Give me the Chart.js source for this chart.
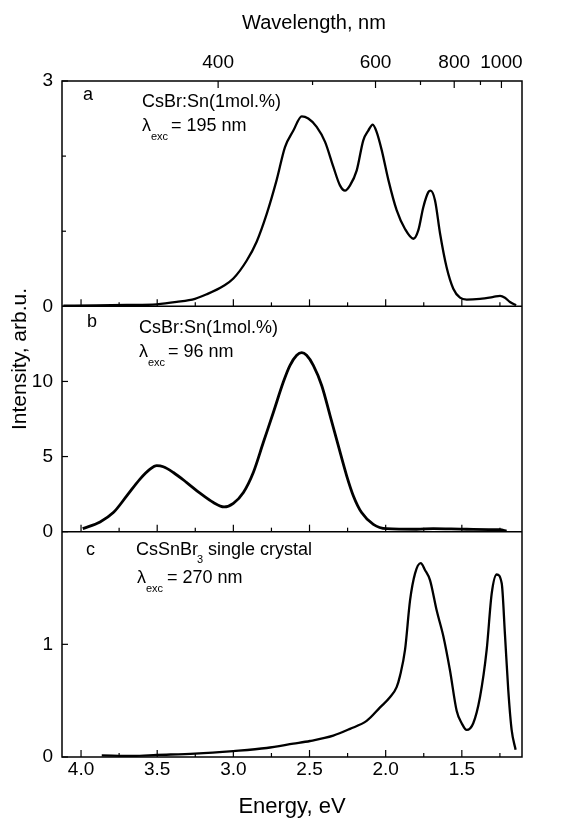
<!DOCTYPE html>
<html>
<head>
<meta charset="utf-8">
<script src="https://cdn.jsdelivr.net/npm/chart.js"></script>
<style>
    html, body { margin: 0; padding: 0; background: #fff; }
    canvas { display: block; }
</style>
</head>
<body>
<canvas id="spectraChart" width="576" height="821"></canvas>
<script>
// panel a: CsBr:Sn(1mol.%), excitation 195 nm
var energyA = [4.116, 3.90, 3.70, 3.503, 3.372, 3.252, 3.175, 3.066, 3.0, 2.912, 2.847, 2.781, 2.716, 2.661, 2.606, 2.551, 2.508, 2.453, 2.398, 2.344, 2.300, 2.267, 2.234, 2.190, 2.147, 2.114, 2.085, 2.059, 2.026, 1.982, 1.928, 1.873, 1.818, 1.786, 1.753, 1.720, 1.705, 1.676, 1.643, 1.600, 1.556, 1.512, 1.468, 1.381, 1.293, 1.249, 1.217, 1.184, 1.144];
var intensityA = [0.01, 0.012, 0.018, 0.027, 0.058, 0.10, 0.16, 0.27, 0.37, 0.61, 0.86, 1.23, 1.68, 2.12, 2.34, 2.53, 2.50, 2.39, 2.19, 1.86, 1.61, 1.54, 1.61, 1.81, 2.21, 2.34, 2.42, 2.32, 2.08, 1.68, 1.28, 1.03, 0.90, 1.01, 1.32, 1.52, 1.54, 1.41, 0.97, 0.52, 0.235, 0.115, 0.09, 0.10, 0.125, 0.14, 0.115, 0.058, 0.013];

// panel b: CsBr:Sn(1mol.%), excitation 96 nm
var energyB = [3.989, 3.875, 3.788, 3.700, 3.613, 3.547, 3.503, 3.460, 3.394, 3.306, 3.219, 3.131, 3.061, 3.0, 2.934, 2.869, 2.803, 2.737, 2.672, 2.628, 2.584, 2.551, 2.519, 2.475, 2.420, 2.365, 2.311, 2.256, 2.212, 2.158, 2.081, 1.994, 1.797, 1.687, 1.468, 1.249, 1.206];
var intensityB = [0.20, 0.65, 1.27, 2.38, 3.50, 4.16, 4.39, 4.32, 3.94, 3.27, 2.56, 1.94, 1.65, 1.89, 2.61, 3.94, 5.95, 7.95, 9.96, 11.07, 11.74, 11.92, 11.74, 11.07, 9.73, 7.73, 5.72, 3.72, 2.38, 1.27, 0.49, 0.20, 0.16, 0.20, 0.16, 0.13, 0.04];

// panel c: CsSnBr3 single crystal, excitation 270 nm
var energyC = [3.864, 3.656, 3.503, 3.252, 3.0, 2.781, 2.606, 2.497, 2.344, 2.234, 2.125, 2.037, 1.972, 1.928, 1.906, 1.873, 1.840, 1.807, 1.770, 1.742, 1.709, 1.665, 1.621, 1.578, 1.534, 1.501, 1.468, 1.425, 1.381, 1.337, 1.304, 1.271, 1.238, 1.217, 1.195, 1.173, 1.147];
var intensityC = [0.015, 0.01, 0.018, 0.03, 0.053, 0.08, 0.118, 0.142, 0.19, 0.25, 0.32, 0.44, 0.53, 0.62, 0.72, 0.95, 1.39, 1.63, 1.72, 1.66, 1.57, 1.30, 1.07, 0.77, 0.41, 0.30, 0.24, 0.30, 0.53, 0.95, 1.45, 1.62, 1.54, 1.09, 0.59, 0.24, 0.065];

// axes
var energyRange = [1.105, 4.125];
var energyTicks = [4.0, 3.5, 3.0, 2.5, 2.0, 1.5];
var energyMinorTicks = [3.75, 3.25, 2.75, 2.25, 1.75, 1.25];
var wavelengthTicks = [400, 600, 800, 1000];
var wavelengthMinorTicks = [500, 700, 900];
var maxA = 3, ticksA = [0, 3], minorTicksA = [1, 2];
var maxB = 15, ticksB = [0, 5, 10];
var maxC = 2, ticksC = [0, 1];

var fontFamily = '"Liberation Sans", Arial, Helvetica, sans-serif';

function toPoints(xs, ys) {
    var pts = [];
    for (var i = 0; i < xs.length; i++) {
        pts.push({ x: xs[i], y: ys[i] });
    }
    return pts;
}

function fixedTicks(values) {
    return function (axis) {
        axis.ticks = values.map(function (v) { return { value: v }; });
    };
}

function yScale(max, ticks) {
    return {
        type: 'linear',
        position: 'left',
        stack: 'panels',
        stackWeight: 1,
        min: 0,
        max: max,
        grid: { display: false, drawTicks: false },
        border: { display: false },
        afterBuildTicks: fixedTicks(ticks),
        afterFit: function (scale) { scale.width = 62; },
        ticks: {
            color: '#000',
            padding: 9,
            font: { family: fontFamily, size: 19 },
            callback: function (value) { return String(value); }
        }
    };
}

function line(ctx, x1, y1, x2, y2) {
    ctx.beginPath();
    ctx.moveTo(x1, y1);
    ctx.lineTo(x2, y2);
    ctx.stroke();
}

function text(ctx, str, x, y, size) {
    ctx.font = size + 'px ' + fontFamily;
    ctx.fillText(str, x, y);
}

// frame, inward ticks and the labels written inside the panels
var framePlugin = {
    id: 'frame',
    afterDatasetsDraw: function (chart) {
        var ctx = chart.ctx;
        var area = chart.chartArea;
        var x = chart.scales.x;
        var panels = [chart.scales.ya, chart.scales.yb, chart.scales.yc];

        ctx.save();
        ctx.strokeStyle = '#000';
        ctx.lineWidth = 1.5;
        ctx.strokeRect(area.left, area.top, area.right - area.left, area.bottom - area.top);
        line(ctx, area.left, chart.scales.ya.bottom, area.right, chart.scales.ya.bottom);
        line(ctx, area.left, chart.scales.yb.bottom, area.right, chart.scales.yb.bottom);

        ctx.lineWidth = 1.2;
        panels.forEach(function (y) {
            energyTicks.forEach(function (v) {
                var px = x.getPixelForValue(v);
                line(ctx, px, y.bottom, px, y.bottom - 7);
            });
            energyMinorTicks.forEach(function (v) {
                var px = x.getPixelForValue(v);
                line(ctx, px, y.bottom, px, y.bottom - 4);
            });
            y.ticks.forEach(function (t) {
                var py = y.getPixelForValue(t.value);
                line(ctx, area.left, py, area.left + 6, py);
            });
        });
        minorTicksA.forEach(function (v) {
            var py = chart.scales.ya.getPixelForValue(v);
            line(ctx, area.left, py, area.left + 4, py);
        });
        wavelengthTicks.forEach(function (w) {
            var px = x.getPixelForValue(1240 / w);
            line(ctx, px, area.top, px, area.top + 7);
        });
        wavelengthMinorTicks.forEach(function (w) {
            var px = x.getPixelForValue(1240 / w);
            line(ctx, px, area.top, px, area.top + 4);
        });

        ctx.fillStyle = '#000';
        ctx.textAlign = 'left';
        ctx.textBaseline = 'alphabetic';

        text(ctx, 'a', 83, 100, 18);
        text(ctx, 'CsBr:Sn(1mol.%)', 142, 107, 18);
        text(ctx, '\u03bb', 142, 131, 18);
        text(ctx, 'exc', 151, 140, 11);
        text(ctx, '= 195 nm', 171, 131, 18);

        text(ctx, 'b', 87, 327, 18);
        text(ctx, 'CsBr:Sn(1mol.%)', 139, 333, 18);
        text(ctx, '\u03bb', 139, 357, 18);
        text(ctx, 'exc', 148, 366, 11);
        text(ctx, '= 96 nm', 168, 357, 18);

        text(ctx, 'c', 86, 555, 18);
        text(ctx, 'CsSnBr', 136, 555, 18);
        text(ctx, '3', 197, 563, 11);
        text(ctx, ' single crystal', 203, 555, 18);
        text(ctx, '\u03bb', 137, 583, 18);
        text(ctx, 'exc', 146, 592, 11);
        text(ctx, '= 270 nm', 167, 583, 18);

        ctx.textAlign = 'center';
        ctx.textBaseline = 'middle';
        text(ctx, 'Wavelength, nm', 314, 23, 20);
        ctx.translate(20, 359);
        ctx.rotate(-Math.PI / 2);
        text(ctx, 'Intensity, arb.u.', 0, 0, 21);
        ctx.restore();
    }
};

var lineStyle = {
    borderColor: '#000',
    pointRadius: 0,
    fill: false,
    cubicInterpolationMode: 'monotone'
};

var chartController = {
    init: function () {
        var ctx = document.getElementById('spectraChart');
        new Chart(ctx, {
            type: 'line',
            data: {
                datasets: [
                    Object.assign({ label: 'a', data: toPoints(energyA, intensityA), xAxisID: 'x', yAxisID: 'ya', borderWidth: 2.3 }, lineStyle),
                    Object.assign({ label: 'b', data: toPoints(energyB, intensityB), xAxisID: 'x', yAxisID: 'yb', borderWidth: 2.8 }, lineStyle),
                    Object.assign({ label: 'c', data: toPoints(energyC, intensityC), xAxisID: 'x', yAxisID: 'yc', borderWidth: 2.3 }, lineStyle)
                ]
            },
            options: {
                responsive: false,
                animation: false,
                parsing: false,
                layout: { padding: { left: 0, right: 54, top: 0, bottom: 0 } },
                plugins: {
                    legend: { display: false },
                    tooltip: { enabled: false }
                },
                scales: {
                    x: {
                        type: 'linear',
                        position: 'bottom',
                        reverse: true,
                        min: energyRange[0],
                        max: energyRange[1],
                        grid: { display: false, drawTicks: false },
                        border: { display: false },
                        afterBuildTicks: fixedTicks(energyTicks),
                        afterFit: function (scale) { scale.height = 64; },
                        title: {
                            display: true,
                            text: 'Energy, eV',
                            color: '#000',
                            font: { family: fontFamily, size: 22 },
                            padding: { top: 0, bottom: 1 }
                        },
                        ticks: {
                            color: '#000',
                            padding: 1,
                            maxRotation: 0,
                            font: { family: fontFamily, size: 19 },
                            callback: function (value) { return value.toFixed(1); }
                        }
                    },
                    x2: {
                        type: 'linear',
                        position: 'top',
                        reverse: true,
                        min: energyRange[0],
                        max: energyRange[1],
                        grid: { display: false, drawTicks: false },
                        border: { display: false },
                        afterBuildTicks: function (axis) {
                            axis.ticks = wavelengthTicks.map(function (w) { return { value: 1240 / w }; });
                        },
                        afterFit: function (scale) { scale.height = 81; },
                        ticks: {
                            color: '#000',
                            padding: 7,
                            maxRotation: 0,
                            autoSkip: false,
                            font: { family: fontFamily, size: 19 },
                            callback: function (value) { return String(Math.round(1240 / value)); }
                        }
                    },
                    yc: yScale(maxC, ticksC),
                    yb: yScale(maxB, ticksB),
                    ya: yScale(maxA, ticksA)
                }
            },
            plugins: [framePlugin]
        });
    }
};

chartController.init();
</script>
</body>
</html>
